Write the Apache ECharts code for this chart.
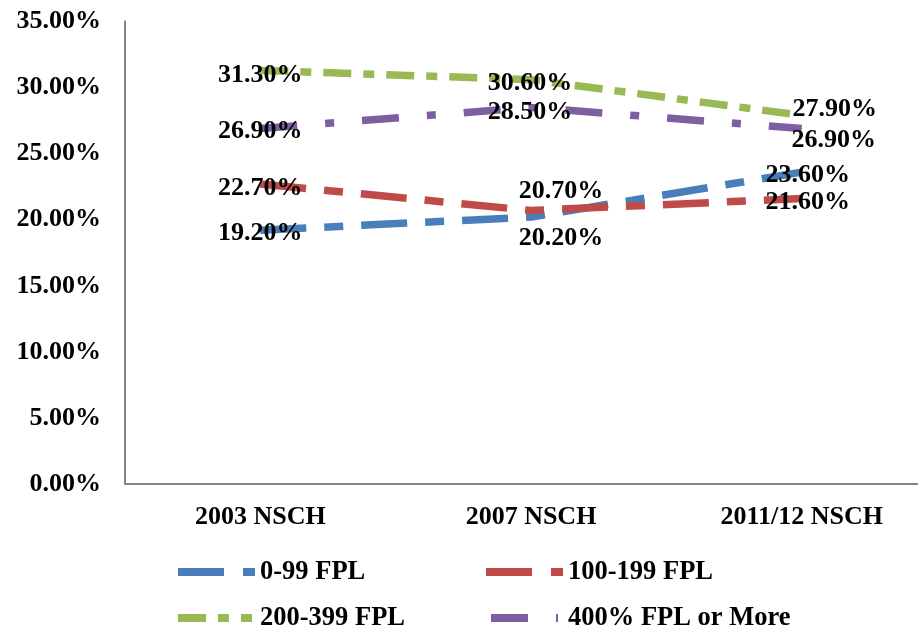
<!DOCTYPE html>
<html>
<head>
<meta charset="utf-8">
<title>NSCH by FPL</title>
<script src="https://cdn.jsdelivr.net/npm/echarts@6/dist/echarts.min.js"></script>
<style>
  html, body { margin: 0; padding: 0; background: #fff; }
  #chart { width: 918px; height: 630px; }
</style>
</head>
<body>
<div id="chart"></div>
<script>
// survey waves
const categories = ["2003 NSCH", "2007 NSCH", "2011/12 NSCH"];
// percent of children, by family income
const fpl0to99 = [19.2, 20.2, 23.6];
const fpl100to199 = [22.7, 20.7, 21.6];
const fpl200to399 = [31.3, 30.6, 27.9];
const fpl400plus = [26.9, 28.5, 26.9];
const seriesNames = ["0-99 FPL", "100-199 FPL", "200-399 FPL", "400% FPL or More"];

const FONT = "'Liberation Serif', 'Times New Roman', serif";

// label nudges (px) so the labels sit like the original
const labelOffsets = [
  [[0, 3], [30, 21], [6, 3]],
  [[0, 4], [30, -19], [6, 4]],
  [[0, 5], [-1, 4], [33, -6]],
  [[0, 3], [-1, 5], [32, 12]],
];

const colors = ["#4A7EBB", "#BE4B48", "#98B954", "#7D60A0"];
const dashes = [[46, 18, 19, 18], [46, 18, 19, 18], [28, 12, 11, 12], [37, 28, 9, 28]];
// legend samples, drawn like the Excel ones (77 x 8)
const legendIcons = [
  "path://M0,0H46V8H0Z M65,0H77V8H65Z",
  "path://M0,0H46V8H0Z M65,0H77V8H65Z",
  "path://M0,0H28V8H0Z M40,0H51V8H40Z M63,0H74V8H63Z M77,0L77,0.01Z",
  "path://M0,0L0,0.01Z M5,0H42V8H5Z M70,0H72V8H70Z M77,0L77,0.01Z",
];
const legendSpots = [[178, 557], [486, 557], [178, 603], [486, 603]];
const allValues = [fpl0to99, fpl100to199, fpl200to399, fpl400plus];

const pct = (v) => v.toFixed(2) + "%";

const series = allValues.map((vals, i) => ({
  name: seriesNames[i],
  type: "line",
  symbol: "circle",
  symbolSize: 1,
  showSymbol: true,
  color: colors[i],
  itemStyle: { color: colors[i] },
  lineStyle: { width: 7.5, color: colors[i], type: dashes[i] },
  label: {
    show: true,
    position: "inside",
    formatter: (p) => pct(p.value),
    fontFamily: FONT,
    fontWeight: "bold",
    fontSize: 26,
    color: "#000",
  },
  data: vals.map((v, j) => ({ value: v, label: { offset: labelOffsets[i][j] } })),
}));

const legends = seriesNames.map((name, i) => ({
  left: legendSpots[i][0],
  top: legendSpots[i][1],
  padding: 0,
  itemWidth: 77,
  itemHeight: 8,
  data: [{ name: name, icon: legendIcons[i] }],
  textStyle: {
    fontFamily: FONT,
    fontWeight: "bold",
    fontSize: 26.5,
    lineHeight: 30,
    color: "#000",
  },
}));

const chart = echarts.init(document.getElementById("chart"));
chart.setOption({
  animation: false,
  grid: { left: 125, width: 812, top: 21.5, bottom: 146, outerBoundsMode: "none" },
  xAxis: {
    type: "category",
    data: categories,
    axisLine: { lineStyle: { color: "#868686", width: 2 } },
    axisTick: { show: false },
    axisLabel: {
      margin: 20,
      fontFamily: FONT,
      fontWeight: "bold",
      fontSize: 26,
      color: "#000",
    },
  },
  yAxis: {
    type: "value",
    min: 0,
    max: 35,
    interval: 5,
    axisLine: { show: true, lineStyle: { color: "#868686", width: 2 } },
    axisTick: { show: false },
    splitLine: { show: false },
    axisLabel: {
      margin: 24,
      padding: [12, 0, 0, 0],
      formatter: pct,
      fontFamily: FONT,
      fontWeight: "bold",
      fontSize: 26,
      color: "#000",
    },
  },
  legend: legends,
  series,
});
</script>
</body>
</html>
